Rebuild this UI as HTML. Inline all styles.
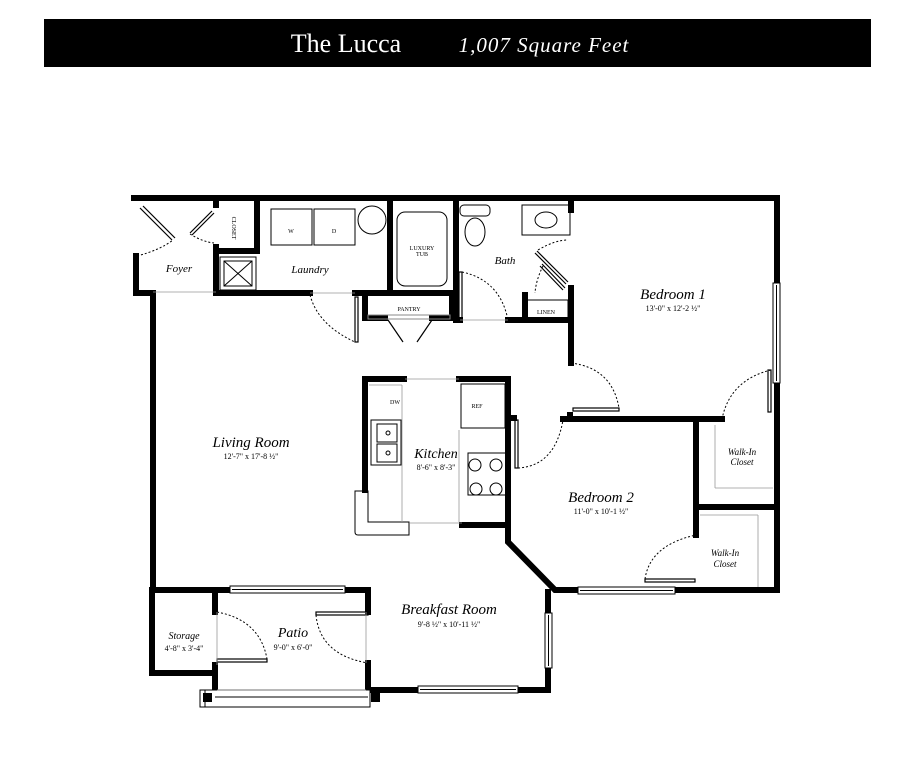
<!DOCTYPE html>
<html><head><meta charset="utf-8"><style>
html,body{margin:0;padding:0;background:#fff;width:915px;height:768px;overflow:hidden}
svg{display:block}
.lbl{font-family:"Liberation Serif",serif;font-style:italic;fill:#000}
.dim{font-family:"Liberation Serif",serif;fill:#000;font-size:8px}
.sm{font-family:"Liberation Serif",serif;fill:#000;font-size:6px}
</style></head><body>
<svg width="915" height="768" viewBox="0 0 915 768" xmlns="http://www.w3.org/2000/svg">
<rect x="44" y="19" width="827" height="48" fill="#000"/>
<text x="346" y="52" text-anchor="middle" font-family="Liberation Serif,serif" font-size="26" fill="#fff">The Lucca</text>
<text x="544" y="52" text-anchor="middle" font-family="Liberation Serif,serif" font-style="italic" font-size="21" fill="#fff" letter-spacing="1">1,007 Square Feet</text>

<g stroke="#000" stroke-width="6" fill="none" stroke-linecap="square">
<!-- top -->
<line x1="134" y1="198" x2="777" y2="198"/>
<!-- foyer left -->
<line x1="136" y1="256" x2="136" y2="293"/>
<line x1="136" y1="293" x2="153" y2="293"/>
<line x1="153" y1="293" x2="153" y2="590"/>
<!-- living bottom -->
<line x1="153" y1="590" x2="230" y2="590"/>
<line x1="345" y1="590" x2="368" y2="590"/>
<!-- storage -->
<line x1="152" y1="590" x2="152" y2="673"/>
<line x1="152" y1="673" x2="215" y2="673"/>
<line x1="215" y1="590" x2="215" y2="612"/>
<line x1="215" y1="665" x2="215" y2="690"/>
<!-- patio right -->
<line x1="368" y1="590" x2="368" y2="612"/>
<line x1="368" y1="663" x2="368" y2="690"/>
<!-- breakfast -->
<line x1="368" y1="690" x2="418" y2="690"/>
<line x1="518" y1="690" x2="548" y2="690"/>
<line x1="548" y1="690" x2="548" y2="668"/>
<line x1="548" y1="613" x2="548" y2="592"/>
<polyline points="508,525 508,542 555,590 578,590"/>
<line x1="675" y1="590" x2="776" y2="590"/>
<!-- right outer -->
<line x1="777" y1="198" x2="777" y2="283"/>
<line x1="777" y1="383" x2="777" y2="590"/>
<!-- closet/foyer -->
<line x1="216" y1="198" x2="216" y2="205"/>
<line x1="216" y1="247" x2="216" y2="293"/>
<line x1="216" y1="251" x2="257" y2="251"/>
<line x1="257" y1="198" x2="257" y2="251"/>
<line x1="216" y1="293" x2="310" y2="293"/>
<line x1="390" y1="198" x2="390" y2="293"/>
<line x1="355" y1="293" x2="455" y2="293"/>
<line x1="456" y1="198" x2="456" y2="320"/>
<!-- pantry box -->
<polyline points="365,296 365,318 385,318"/>
<polyline points="452,296 452,318 432,318"/>
<!-- bath bottom -->
<line x1="456" y1="320" x2="460" y2="320"/>
<line x1="508" y1="320" x2="571" y2="320"/>
<line x1="525" y1="295" x2="525" y2="320"/>
<line x1="571" y1="198" x2="571" y2="210"/>
<line x1="571" y1="288" x2="571" y2="363"/>
<!-- bedroom 1 bottom -->
<line x1="570" y1="415" x2="570" y2="419"/>
<line x1="563" y1="419" x2="722" y2="419"/>
<!-- closets -->
<line x1="696" y1="419" x2="696" y2="535"/>
<line x1="696" y1="507" x2="777" y2="507"/>
<!-- kitchen -->
<polyline points="365,490 365,379 404,379"/>
<polyline points="459,379 508,379 508,525 462,525"/>
<line x1="508" y1="418" x2="514" y2="418"/>
</g>

<!-- windows -->
<g fill="#fff" stroke="#000" stroke-width="1">
<rect x="230" y="586" width="115" height="7"/><line x1="232" y1="589.5" x2="343" y2="589.5"/>
<rect x="418" y="686" width="100" height="7"/><line x1="420" y1="689.5" x2="516" y2="689.5"/>
<rect x="545" y="613" width="7" height="55"/><line x1="548.5" y1="615" x2="548.5" y2="666"/>
<rect x="578" y="587" width="97" height="7"/><line x1="580" y1="590.5" x2="673" y2="590.5"/>
<rect x="773" y="283" width="7" height="100"/><line x1="776.5" y1="285" x2="776.5" y2="381"/>
<rect x="200" y="690" width="170" height="17"/>
<line x1="215" y1="697" x2="368" y2="697"/>
<line x1="205" y1="690" x2="205" y2="707"/>
</g>
<rect x="203" y="693" width="9" height="9" fill="#000"/>
<rect x="371" y="693" width="9" height="9" fill="#000"/>

<!-- doors (leaves) -->
<g stroke="#000" stroke-width="1.2" fill="none">
<line x1="140" y1="208" x2="172" y2="240"/><line x1="143" y1="206" x2="175" y2="238"/>
<line x1="190" y1="233" x2="212" y2="211"/><line x1="192" y1="235" x2="214" y2="213"/>
<rect x="355" y="297" width="3" height="45"/>
<rect x="459" y="272" width="3" height="47"/>
<line x1="535" y1="253" x2="566" y2="284"/><line x1="537" y1="251" x2="568" y2="282"/>
<line x1="540" y1="266" x2="563" y2="290"/><line x1="542" y1="264" x2="565" y2="288"/>
<line x1="388" y1="320" x2="403" y2="342"/><line x1="432" y1="320" x2="417" y2="342"/>
<rect x="573" y="408" width="46" height="3"/>
<rect x="515" y="420" width="3" height="48"/>
<rect x="768" y="370" width="3" height="42"/>
<rect x="645" y="579" width="50" height="3"/>
<rect x="217" y="659" width="50" height="3"/>
<rect x="316" y="612" width="52" height="3"/>
</g>
<g stroke="#000" stroke-width="1" fill="none" stroke-dasharray="2,2">
<path d="M137 256 Q160 250 173 240"/>
<path d="M190 234 Q203 242 214 243"/>
<path d="M310 295 Q318 325 355 342"/>
<path d="M462 272 Q500 280 508 320"/>
<path d="M538 250 Q555 240 568 240"/>
<path d="M543 266 Q536 280 535 293"/>
<path d="M571 363 Q612 368 619 408"/>
<path d="M518 468 Q555 466 563 420"/>
<path d="M771 370 Q730 380 722 419"/>
<path d="M645 579 Q650 545 696 535"/>
<path d="M217 612 Q260 620 267 659"/>
<path d="M316 615 Q320 655 368 663"/>
</g>

<!-- fixtures -->
<g stroke="#000" stroke-width="1" fill="none">
<rect x="271" y="209" width="41" height="36"/><rect x="314" y="209" width="41" height="36"/>
<circle cx="372" cy="220" r="14"/>
<rect x="220" y="257" width="36" height="33"/><rect x="224" y="261" width="28" height="25"/>
<line x1="224" y1="261" x2="252" y2="286"/><line x1="252" y1="261" x2="224" y2="286"/>
<rect x="397" y="212" width="50" height="74" rx="8"/>
<rect x="460" y="205" width="30" height="11" rx="4"/>
<ellipse cx="475" cy="232" rx="10" ry="14"/>
<rect x="522" y="205" width="48" height="30"/><ellipse cx="546" cy="220" rx="11" ry="8"/>
<rect x="527" y="300" width="41" height="18"/>
<rect x="368" y="315" width="82" height="4" stroke="#888"/>
<rect x="461" y="384" width="44" height="44"/>
<rect x="468" y="453" width="40" height="42"/>
<circle cx="475" cy="465" r="6"/><circle cx="496" cy="465" r="6"/>
<circle cx="476" cy="489" r="6"/><circle cx="496" cy="489" r="6"/>
<rect x="371" y="420" width="30" height="45"/>
<rect x="377" y="424" width="20" height="18"/><rect x="377" y="444" width="20" height="18"/>
<circle cx="388" cy="433" r="2"/><circle cx="388" cy="453" r="2"/>
<path d="M355 491 H368 V522 H409 V535 H358 Q355 535 355 532 Z"/>
</g>
<g stroke="#999" stroke-width="0.8" fill="none">
<line x1="369" y1="385" x2="402" y2="385"/><line x1="402" y1="385" x2="402" y2="522"/>
<line x1="459" y1="430" x2="459" y2="522"/><line x1="410" y1="523" x2="462" y2="523"/>
<line x1="405" y1="379" x2="459" y2="379"/>
<line x1="153" y1="292" x2="216" y2="292"/>
<line x1="310" y1="293" x2="355" y2="293"/>
<line x1="460" y1="320" x2="508" y2="320"/>
<line x1="715" y1="425" x2="715" y2="488"/><line x1="715" y1="488" x2="773" y2="488"/>
<line x1="700" y1="515" x2="758" y2="515"/><line x1="758" y1="515" x2="758" y2="587"/>
<line x1="217" y1="612" x2="217" y2="665"/><line x1="366" y1="612" x2="366" y2="663"/>
<line x1="217" y1="690" x2="366" y2="690"/>
</g>

<!-- labels -->
<text class="lbl" x="179" y="272" font-size="11" text-anchor="middle">Foyer</text>
<text class="lbl" x="310" y="273" font-size="11" text-anchor="middle">Laundry</text>
<text class="lbl" x="505" y="264" font-size="11" text-anchor="middle">Bath</text>
<text class="sm" x="291" y="233" text-anchor="middle">W</text>
<text class="sm" x="334" y="233" text-anchor="middle">D</text>
<text class="sm" x="422" y="250" text-anchor="middle">LUXURY</text>
<text class="sm" x="422" y="256" text-anchor="middle">TUB</text>
<text class="sm" x="409" y="311" text-anchor="middle">PANTRY</text>
<text class="sm" x="546" y="314" text-anchor="middle">LINEN</text>
<text class="sm" transform="translate(232,228) rotate(90)" text-anchor="middle">CLOSET</text>
<text class="sm" x="395" y="404" text-anchor="middle">DW</text>
<text class="sm" x="477" y="408" text-anchor="middle">REF</text>
<text class="lbl" x="673" y="299" font-size="15" text-anchor="middle">Bedroom 1</text>
<text class="dim" x="673" y="311" text-anchor="middle">13'-0" x 12'-2 ½"</text>
<text class="lbl" x="251" y="447" font-size="15" text-anchor="middle">Living Room</text>
<text class="dim" x="251" y="459" text-anchor="middle">12'-7" x 17'-8 ½"</text>
<text class="lbl" x="436" y="458" font-size="14" text-anchor="middle">Kitchen</text>
<text class="dim" x="436" y="470" text-anchor="middle">8'-6" x 8'-3"</text>
<text class="lbl" x="601" y="502" font-size="15" text-anchor="middle">Bedroom 2</text>
<text class="dim" x="601" y="514" text-anchor="middle">11'-0" x 10'-1 ½"</text>
<text class="lbl" x="742" y="455" font-size="9" text-anchor="middle">Walk-In</text>
<text class="lbl" x="742" y="465" font-size="9" text-anchor="middle">Closet</text>
<text class="lbl" x="725" y="556" font-size="9" text-anchor="middle">Walk-In</text>
<text class="lbl" x="725" y="567" font-size="9" text-anchor="middle">Closet</text>
<text class="lbl" x="449" y="614" font-size="15" text-anchor="middle">Breakfast Room</text>
<text class="dim" x="449" y="627" text-anchor="middle">9'-8 ½" x 10'-11 ½"</text>
<text class="lbl" x="293" y="637" font-size="14" text-anchor="middle">Patio</text>
<text class="dim" x="293" y="650" text-anchor="middle">9'-0" x 6'-0"</text>
<text class="lbl" x="184" y="639" font-size="10" text-anchor="middle">Storage</text>
<text class="dim" x="184" y="651" text-anchor="middle">4'-8" x 3'-4"</text>
</svg>
</body></html>
